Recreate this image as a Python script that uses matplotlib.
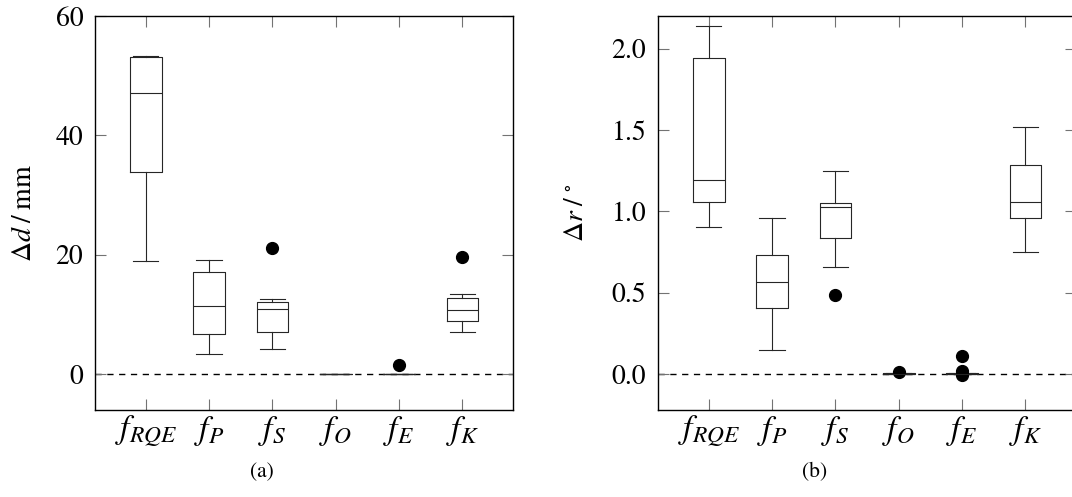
import matplotlib
matplotlib.use("Agg")
import matplotlib.pyplot as plt

plt.rcParams['font.family'] = ['STIXGeneral', 'Liberation Serif', 'DejaVu Serif']
plt.rcParams['mathtext.fontset'] = 'stix'

# ---- data ----
categories = [r'$f_{RQE}$', r'$f_P$', r'$f_S$', r'$f_O$', r'$f_E$', r'$f_K$']

# panel (a): Δd / mm
d_whislo = [19.0, 3.4, 4.2, 0.0, 0.0, 7.1]
d_q1     = [33.9, 6.7, 7.0, 0.01, 0.01, 8.9]
d_med    = [47.1, 11.5, 11.0, 0.03, 0.03, 10.7]
d_q3     = [53.05, 17.1, 12.1, 0.05, 0.05, 12.7]
d_whishi = [53.3, 19.1, 12.6, 0.08, 0.08, 13.5]
d_fliers = [[], [], [21.2], [], [1.6], [19.7]]

# panel (b): Δr / °
r_whislo = [0.901, 0.151, 0.661, 0.0, 0.0, 0.750]
r_q1     = [1.059, 0.408, 0.836, 0.002, 0.002, 0.961]
r_med    = [1.192, 0.565, 1.028, 0.004, 0.004, 1.055]
r_q3     = [1.942, 0.735, 1.049, 0.006, 0.006, 1.282]
r_whishi = [2.141, 0.961, 1.250, 0.008, 0.008, 1.516]
r_fliers = [[], [], [0.487], [0.012], [0.112, 0.022, -0.002], []]

d_yticks = [0, 20, 40, 60]
r_yticks = [0.0, 0.5, 1.0, 1.5, 2.0]
r_yticklabels = ['0.0', '0.5', '1.0', '1.5', '2.0']


def make_stats(lo, q1, med, q3, hi, fl):
    return [dict(whislo=a, q1=b, med=c, q3=d, whishi=e, fliers=f)
            for a, b, c, d, e, f in zip(lo, q1, med, q3, hi, fl)]


W, H = 1072, 497
fig = plt.figure(figsize=(W / 100, H / 100), dpi=100)

ax_w = 418 / W
ax_h = 394 / H
ax_b = 1 - 410 / H
axA = fig.add_axes([95 / W, ax_b, ax_w, ax_h])
axB = fig.add_axes([658 / W, ax_b, ax_w, ax_h])

lw = 0.8
lc = '0.15'
style = dict(
    boxprops=dict(color=lc, linewidth=lw),
    whiskerprops=dict(color=lc, linewidth=lw),
    capprops=dict(color=lc, linewidth=lw),
    medianprops=dict(color=lc, linewidth=lw),
    flierprops=dict(marker='o', markerfacecolor='black', markeredgecolor='black',
                    markersize=8.5, linestyle='none'),
)

pos = list(range(1, len(categories) + 1))

for ax, stats, yticks, ylabels, ylim, ylab, lx in [
    (axA, make_stats(d_whislo, d_q1, d_med, d_q3, d_whishi, d_fliers),
     d_yticks, [str(t) for t in d_yticks], (-6, 60), r'$\Delta d\;/\;\mathrm{mm}$', -0.168),
    (axB, make_stats(r_whislo, r_q1, r_med, r_q3, r_whishi, r_fliers),
     r_yticks, r_yticklabels, (-0.22, 2.2), r'$\Delta r\;/\;^{\circ}$', -0.194),
]:
    ax.axhline(0, color='black', linewidth=1.0, linestyle=(0, (4.5, 4)), zorder=0)
    ax.bxp(stats, positions=pos, widths=0.5, capwidths=0.4, **style)
    ax.set_xlim(0.2, 6.8)
    ax.set_ylim(*ylim)
    ax.set_xticks(pos)
    ax.set_xticklabels(categories, fontsize=24)
    ax.set_yticks(yticks)
    ax.set_yticklabels(ylabels, fontsize=20)
    ax.tick_params(axis='both', direction='in', length=8, width=0.8, color='0.45',
                   top=True, right=True)
    ax.tick_params(axis='y', pad=8.5)
    ax.tick_params(axis='x', pad=3)
    for s in ax.spines.values():
        s.set_linewidth(1.0)
        s.set_color('black')
    ax.set_ylabel(ylab, fontsize=20, va='center')
    ax.yaxis.set_label_coords(lx, 0.5)

fig.text(262 / W, 1 - 472 / H, '(a)', ha='center', va='center', fontsize=15.5)
fig.text(815 / W, 1 - 472 / H, '(b)', ha='center', va='center', fontsize=15.5)

fig.savefig('out.png', dpi=100)
